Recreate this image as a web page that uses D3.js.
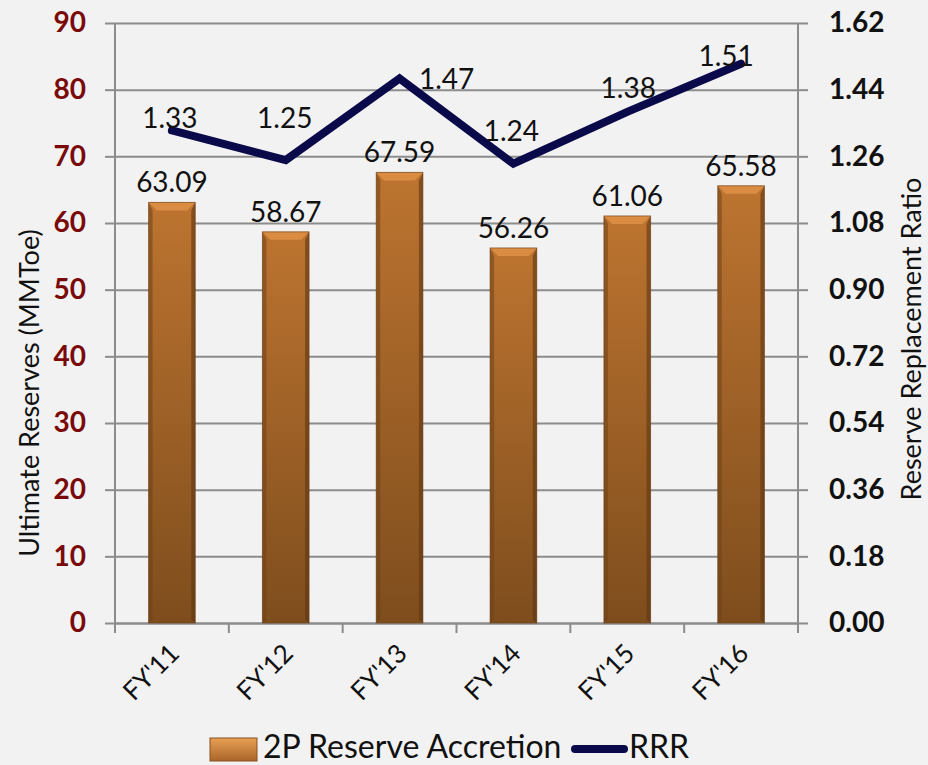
<!doctype html>
<html lang="en">
<head>
<meta charset="UTF-8" />
<script src="https://d3js.org/d3.v7.min.js"></script>
<title>Reserves</title>
<style>
  body { margin: 0; background: #f2f2f2; }
  text { font-family: Lato, "Open Sans", sans-serif; }
</style>
</head>
<body>
<div id="chart"></div>
<script>
// Data
const years = ["FY'11", "FY'12", "FY'13", "FY'14", "FY'15", "FY'16"]
const accretion = [63.09, 58.67, 67.59, 56.26, 61.06, 65.58]
const rrr = [1.33, 1.25, 1.47, 1.24, 1.38, 1.51]
const leftTicks = [0, 10, 20, 30, 40, 50, 60, 70, 80, 90]
const rightTicks = [0, 0.18, 0.36, 0.54, 0.72, 0.90, 1.08, 1.26, 1.44, 1.62]

// hand-placed offsets for the RRR labels (dx, dy from the point)
const rrrLabelOffset = [[-2, -12], [-1, -42], [47, 1], [-2, -33], [1, -24], [-15, -8]]

const W = 928, H = 765
const plot = { left: 115, right: 798, top: 23, bottom: 623 }

const svg = d3.select("#chart").append("svg")
  .attr("width", W).attr("height", H)
  .style("background", "#f2f2f2")

const defs = svg.append("defs")
const g1 = defs.append("linearGradient").attr("id", "barGrad")
  .attr("x1", 0).attr("y1", 0).attr("x2", 0).attr("y2", 1)
g1.append("stop").attr("offset", "0%").attr("stop-color", "#bd7430")
g1.append("stop").attr("offset", "100%").attr("stop-color", "#7e4d1d")
const g2 = defs.append("linearGradient").attr("id", "legGrad")
  .attr("x1", 0).attr("y1", 0).attr("x2", 0).attr("y2", 1)
g2.append("stop").attr("offset", "0%").attr("stop-color", "#e9a055")
g2.append("stop").attr("offset", "100%").attr("stop-color", "#a9652a")

// Scales
const x = d3.scaleBand().domain(years).range([plot.left, plot.right]).paddingInner(0.59).paddingOuter(0.295)
const xc = d3.scaleBand().domain(years).range([plot.left, plot.right])
const y = d3.scaleLinear().domain([0, 90]).range([plot.bottom, plot.top])
const y2 = d3.scaleLinear().domain([0, 1.62]).range([plot.bottom, plot.top])

// Grid + left axis
const leftAxis = svg.append("g")
  .attr("transform", `translate(${plot.left},0)`)
  .call(d3.axisLeft(y).tickValues(leftTicks).tickSize(10).tickPadding(19))
leftAxis.select(".domain").remove()
leftAxis.selectAll(".tick line").clone()
  .attr("x2", plot.right - plot.left)
leftAxis.selectAll(".tick line").attr("stroke", "#8c8c8c").attr("stroke-width", 2)
leftAxis.selectAll("text")
  .attr("fill", "#7a0a0a").attr("font-size", 28).attr("font-weight", "bold")
  .style("font-family", "Lato, sans-serif")

// axis lines
svg.append("line").attr("x1", plot.left).attr("x2", plot.left)
  .attr("y1", plot.top).attr("y2", plot.bottom + 10)
  .attr("stroke", "#8c8c8c").attr("stroke-width", 2)
svg.append("line").attr("x1", plot.right).attr("x2", plot.right)
  .attr("y1", plot.top).attr("y2", plot.bottom + 10)
  .attr("stroke", "#8c8c8c").attr("stroke-width", 2)

// right axis
const rightAxis = svg.append("g")
  .attr("transform", `translate(${plot.right},0)`)
  .call(d3.axisRight(y2).tickValues(rightTicks).tickSize(10).tickPadding(21).tickFormat(d3.format(".2f")))
rightAxis.select(".domain").remove()
rightAxis.selectAll(".tick line").attr("stroke", "#8c8c8c").attr("stroke-width", 2)
rightAxis.selectAll("text")
  .attr("fill", "#111").attr("font-size", 28).attr("font-weight", "bold")
  .style("font-family", "Lato, sans-serif")

// bottom axis
const bottomAxis = svg.append("g")
  .attr("transform", `translate(0,${plot.bottom})`)
  .call(d3.axisBottom(xc).tickSize(0).tickFormat(""))
bottomAxis.select(".domain").attr("stroke", "#8c8c8c").attr("stroke-width", 2)
bottomAxis.selectAll(".tick").remove()
const bTicks = xc.domain().map(d => xc(d)).concat([plot.right])
bottomAxis.selectAll(".bt").data(bTicks).enter().append("line")
  .attr("x1", d => d).attr("x2", d => d).attr("y1", 0).attr("y2", 10)
  .attr("stroke", "#8c8c8c").attr("stroke-width", 2)

bottomAxis.selectAll(".xl").data(years).enter().append("text")
  .attr("transform", d => `translate(${xc(d) + xc.bandwidth() / 2 + 9},${32}) rotate(-45)`)
  .attr("text-anchor", "end")
  .attr("font-size", 26)
  .attr("fill", "#111")
  .text(d => d)

// Bars
const bars = svg.append("g")
const bw = x.bandwidth()
accretion.forEach((v, i) => {
  const bx = x(years[i]), by = y(v), bh = plot.bottom - by
  bars.append("rect").attr("x", bx).attr("y", by).attr("width", bw).attr("height", bh)
    .attr("fill", "url(#barGrad)")
  // bevel: top
  bars.append("path")
    .attr("d", `M${bx},${by}L${bx + bw},${by}L${bx + bw - 8},${by + 8}L${bx + 8},${by + 8}Z`)
    .attr("fill", "#d98c42")
  // bevel sides
  bars.append("path")
    .attr("d", `M${bx},${by}L${bx + 4},${by + 8}L${bx + 4},${plot.bottom - 3}L${bx},${plot.bottom}Z`)
    .attr("fill", "#6e4118").attr("opacity", 0.55)
  bars.append("path")
    .attr("d", `M${bx + bw},${by}L${bx + bw - 4},${by + 8}L${bx + bw - 4},${plot.bottom - 3}L${bx + bw},${plot.bottom}Z`)
    .attr("fill", "#5e3512").attr("opacity", 0.6)
  bars.append("rect").attr("x", bx).attr("y", by).attr("width", bw).attr("height", bh)
    .attr("fill", "none").attr("stroke", "#6a3d14").attr("stroke-width", 1).attr("opacity", 0.6)
})

// bar labels
svg.append("g").selectAll("text").data(accretion).enter().append("text")
  .attr("x", (d, i) => x(years[i]) + bw / 2)
  .attr("y", d => y(d) - 10)
  .attr("text-anchor", "middle")
  .attr("font-size", 28)
  .attr("fill", "#111")
  .text(d => d.toFixed(2))

// RRR line
const line = d3.line()
  .x((d, i) => xc(years[i]) + xc.bandwidth() / 2)
  .y(d => y2(d))
svg.append("path").datum(rrr)
  .attr("d", line)
  .attr("fill", "none")
  .attr("stroke", "#0a0a4a")
  .attr("stroke-width", 8)
  .attr("stroke-linecap", "round")
  .attr("stroke-linejoin", "miter")

svg.append("g").selectAll("text").data(rrr).enter().append("text")
  .attr("x", (d, i) => xc(years[i]) + xc.bandwidth() / 2 + rrrLabelOffset[i][0])
  .attr("y", (d, i) => y2(d) + rrrLabelOffset[i][1])
  .attr("dy", "0.35em")
  .attr("text-anchor", "middle")
  .attr("font-size", 28)
  .attr("fill", "#111")
  .text(d => d.toFixed(2))

// axis titles
svg.append("text")
  .attr("transform", `translate(30,${(plot.top + plot.bottom) / 2 + 70}) rotate(-90)`)
  .attr("text-anchor", "middle").attr("dy", "0.35em")
  .attr("font-size", 27).attr("fill", "#111")
  .text("Ultimate Reserves (MMToe)")
svg.append("text")
  .attr("transform", `translate(912,${(plot.top + plot.bottom) / 2 + 16}) rotate(-90)`)
  .attr("text-anchor", "middle").attr("dy", "0.35em")
  .attr("font-size", 27).attr("fill", "#111")
  .text("Reserve Replacement Ratio")

// Legend
const leg = svg.append("g")
leg.append("rect").attr("x", 210).attr("y", 738).attr("width", 47).attr("height", 23)
  .attr("fill", "url(#legGrad)").attr("stroke", "#8a5020").attr("stroke-width", 1)
leg.append("text").attr("x", 263).attr("y", 758).attr("font-size", 32).attr("fill", "#111")
  .text("2P Reserve Accretion")
leg.append("line").attr("x1", 575).attr("x2", 624).attr("y1", 749).attr("y2", 749)
  .attr("stroke", "#0a0a4a").attr("stroke-width", 8).attr("stroke-linecap", "round")
leg.append("text").attr("x", 629).attr("y", 758).attr("font-size", 32).attr("fill", "#111")
  .text("RRR")
</script>
</body>
</html>
